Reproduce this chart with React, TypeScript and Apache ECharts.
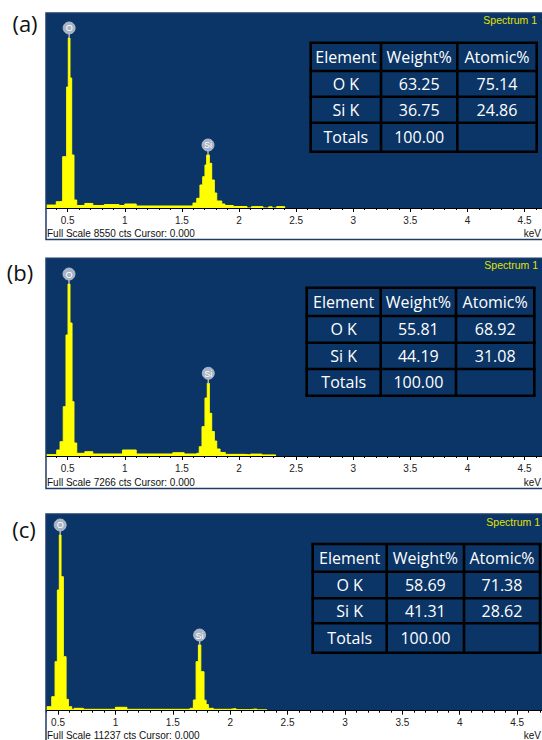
import React, { useEffect, useRef } from "react";
import * as echarts from "echarts";

// ---------- data ----------
// bin left edges (keV) and counts for each spectrum (step histogram)
const energyA = [0.31, 0.40, 0.43, 0.456, 0.491, 0.505, 0.520, 0.535, 0.555, 0.579, 0.65, 0.72, 0.82, 0.95, 1.00, 1.10, 1.597, 1.630, 1.658, 1.682, 1.702, 1.717, 1.740, 1.761, 1.784, 1.805, 1.849, 1.877, 1.95, 2.07, 2.11, 2.21, 2.26, 2.29, 2.33, 2.40];
const countsA = [130, 276, 300, 2250, 5306, 7455, 5700, 2324, 350, 110, 200, 110, 150, 110, 175, 88, 219, 425, 1009, 1372, 1886, 2324, 1960, 1228, 658, 307, 175, 110, 66, 0, 60, 0, 50, 0, 60, 0];

const energyB = [0.31, 0.404, 0.433, 0.461, 0.485, 0.503, 0.520, 0.538, 0.555, 0.579, 0.65, 0.72, 0.98, 1.10, 1.42, 1.52, 1.63, 1.652, 1.676, 1.702, 1.722, 1.740, 1.761, 1.784, 1.805, 1.834, 1.88, 2.05, 2.10, 2.20, 2.32];
const countsB = [50, 220, 525, 1812, 4447, 6321, 4888, 1996, 478, 99, 158, 74, 220, 74, 121, 74, 100, 342, 1077, 2131, 2672, 1569, 900, 550, 257, 130, 60, 40, 70, 40, 0];

const energyC = [0.395, 0.445, 0.474, 0.494, 0.511, 0.526, 0.546, 0.570, 0.590, 0.619, 0.64, 0.72, 1.00, 1.10, 1.650, 1.679, 1.703, 1.723, 1.744, 1.772, 1.79, 1.81, 1.853, 2.00, 2.05, 2.17, 2.23, 2.32];
const countsC = [229, 800, 2800, 6896, 10038, 7655, 3085, 651, 229, 80, 137, 80, 194, 80, 137, 611, 2800, 3753, 2228, 600, 350, 137, 80, 120, 60, 100, 50, 0];

const fullScales = [8550, 7266, 11237];
const panelLetters = ["(a)", "(b)", "(c)"];
const peakElements = ["O", "Si"];
const peakEnergies = [0.525, 1.74];
const majorTicks = [0.5, 1, 1.5, 2, 2.5, 3, 3.5, 4, 4.5];
const minorTicks = [0.4, 0.5, 0.6, 0.7, 0.8, 0.9, 1.0, 1.1, 1.2, 1.3, 1.4, 1.5, 1.6, 1.7, 1.8, 1.9, 2.0, 2.1, 2.2, 2.3, 2.4, 2.5, 2.6, 2.7, 2.8, 2.9, 3.0, 3.1, 3.2, 3.3, 3.4, 3.5, 3.6, 3.7, 3.8, 3.9, 4.0, 4.1, 4.2, 4.3, 4.4, 4.5, 4.6, 4.7];

const tableHeader = ["Element", "Weight%", "Atomic%"];
const tableA = [["O K", "63.25", "75.14"], ["Si K", "36.75", "24.86"], ["Totals", "100.00", ""]];
const tableB = [["O K", "55.81", "68.92"], ["Si K", "44.19", "31.08"], ["Totals", "100.00", ""]];
const tableC = [["O K", "58.69", "71.38"], ["Si K", "41.31", "28.62"], ["Totals", "100.00", ""]];

// ---------- layout ----------
const BG = "#0b3566";
const YELLOW = "#ffff00";
const panels = [
  {
    energy: energyA, counts: countsA, table: tableA,
    top: 13, height: 195, frameBottom: 239.5, xMin: 0.31, xMax: 4.653,
    tx: [310.7, 381, 457.3, 536.7], ty: [42.7, 71, 96.7, 122.7, 151.7],
    spec: [537, 20], letter: [25, 23], footY: 233,
  },
  {
    energy: energyB, counts: countsB, table: tableB,
    top: 258.3, height: 197.7, frameBottom: 488.5, xMin: 0.31, xMax: 4.653,
    tx: [306.7, 380.7, 456, 534.3], ty: [287.7, 316, 342.7, 369, 395.7],
    spec: [538, 265], letter: [20, 272], footY: 482,
  },
  {
    energy: energyC, counts: countsC, table: tableC,
    top: 514, height: 196.7, frameBottom: 760, xMin: 0.395, xMax: 4.717,
    tx: [312.7, 386.7, 464, 540], ty: [544, 571.7, 598.3, 623.3, 652.7],
    spec: [540, 521.7], letter: [24, 529], footY: 735,
  },
];

function findPeaks(energy: number[], counts: number[]) {
  return peakElements.map((el, k) => {
    const e0 = peakEnergies[k];
    let best = -1;
    for (let i = 0; i < energy.length - 1; i++) {
      if (Math.abs(energy[i] - e0) < 0.1 && (best < 0 || counts[i] > counts[best])) best = i;
    }
    return { label: el, x: (energy[best] + energy[best + 1]) / 2, y: counts[best] };
  });
}

function txt(text: string, x: number, y: number, font: string, fill: string, align = "center", z = 30) {
  return {
    type: "text", x, y, z, silent: true,
    style: { text, font, fill, align, verticalAlign: "middle", textAlign: align, textVerticalAlign: "middle" },
  };
}

function buildOption() {
  const grid: any[] = [];
  const xAxis: any[] = [];
  const yAxis: any[] = [];
  const series: any[] = [];
  const graphic: any[] = [];

  panels.forEach((p, i) => {
    grid.push({
      left: 46, right: 0, top: p.top, height: p.height,
      show: true, backgroundColor: BG, borderWidth: 0,
    });
    const inRange = (v: number) => v > p.xMin && v < p.xMax;
    xAxis.push({
      type: "value", gridIndex: i, min: p.xMin, max: p.xMax, position: "bottom", z: 5,
      axisLine: { show: true, onZero: false, lineStyle: { color: "#000", width: 1 } },
      axisTick: { show: true, length: 4, inside: false, customValues: majorTicks.filter(inRange), lineStyle: { color: "#000", width: 1 } },
      axisLabel: { show: true, customValues: majorTicks.filter(inRange), margin: 7, fontSize: 10, fontFamily: "Liberation Sans", color: "#222" },
      splitLine: { show: false },
    });
    xAxis.push({
      type: "value", gridIndex: i, min: p.xMin, max: p.xMax, position: "bottom", z: 5,
      axisLine: { show: false },
      axisTick: { show: true, length: 2, customValues: minorTicks.filter(inRange), lineStyle: { color: "#000", width: 1 } },
      axisLabel: { show: false },
      splitLine: { show: false },
    });
    yAxis.push({ type: "value", gridIndex: i, min: 0, max: fullScales[i], show: false, splitLine: { show: false } });

    series.push({
      type: "line", xAxisIndex: i * 2, yAxisIndex: i, step: "end",
      data: p.energy.map((e, k) => [e, p.counts[k]]),
      showSymbol: false, symbol: "none",
      lineStyle: { color: YELLOW, width: 1 },
      areaStyle: { color: YELLOW, opacity: 1 },
      z: 2, silent: true,
    });

    const peaks = findPeaks(p.energy, p.counts);
    series.push({
      type: "custom", xAxisIndex: i * 2, yAxisIndex: i, z: 6, silent: true,
      data: peaks.map((m) => [m.x, m.y]),
      renderItem: (params: any, api: any) => {
        const pt = api.coord([api.value(0), api.value(1)]);
        const label = peaks[params.dataIndex].label;
        const cy = pt[1] - 10;
        return {
          type: "group",
          children: [
            { type: "line", shape: { x1: pt[0], y1: pt[1], x2: pt[0], y2: cy + 4 }, style: { stroke: "#a8b3c5", lineWidth: 1.5 } },
            { type: "circle", shape: { cx: pt[0], cy, r: 6 }, style: { fill: "#a8b3c5", stroke: "#bcc5d3", lineWidth: 0.8 } },
            {
              type: "text", x: pt[0], y: cy + 0.5,
              style: { text: label, font: "9px Liberation Sans", fill: "#ffffff", align: "center", verticalAlign: "middle", textAlign: "center", textVerticalAlign: "middle" },
            },
          ],
        };
      },
    });

    // panel frame
    graphic.push({
      type: "rect", z: 20, silent: true,
      shape: { x: 46, y: p.top, width: 510, height: p.frameBottom - p.top },
      style: { fill: "none", stroke: "#1e3d69", lineWidth: 1.5 },
    });
    // panel letter
    graphic.push(txt(panelLetters[i], p.letter[0], p.letter[1], '22px "Open Sans"', "#111"));
    // spectrum label
    graphic.push(txt("Spectrum 1", p.spec[0], p.spec[1], "10.5px Liberation Sans", "#e2e200", "right"));
    // footer
    graphic.push(txt(`Full Scale ${fullScales[i]} cts Cursor: 0.000`, 47, p.footY, "10px Liberation Sans", "#111", "left"));
    graphic.push(txt("keV", 541, p.footY, "10px Liberation Sans", "#111", "right"));

    // table lines
    const tx = p.tx, ty = p.ty;
    tx.forEach((x) => {
      graphic.push({ type: "line", z: 25, silent: true, shape: { x1: x, y1: ty[0], x2: x, y2: ty[ty.length - 1] }, style: { stroke: "#000", lineWidth: 2.6 } });
    });
    ty.forEach((y) => {
      graphic.push({ type: "line", z: 25, silent: true, shape: { x1: tx[0] - 1.3, y1: y, x2: tx[tx.length - 1] + 1.3, y2: y }, style: { stroke: "#000", lineWidth: 2.6 } });
    });
    const rows = [tableHeader, ...p.table];
    rows.forEach((row, r) => {
      row.forEach((cell, c) => {
        if (!cell) return;
        const cx = (tx[c] + tx[c + 1]) / 2;
        const cy = (ty[r] + ty[r + 1]) / 2;
        graphic.push(txt(cell, cx, cy, '16px "Open Sans"', "#ffffff"));
      });
    });
  });

  return { animation: false, grid, xAxis, yAxis, series, graphic };
}

export default function App() {
  const ref = useRef<HTMLDivElement>(null);
  useEffect(() => {
    if (!ref.current) return;
    const chart = echarts.init(ref.current, undefined, { renderer: "svg" });
    chart.setOption(buildOption() as any);
    return () => chart.dispose();
  }, []);
  return (
    <div
      ref={ref}
      style={{ position: "absolute", left: 0, top: 0, width: 542, height: 740, background: "#fff" }}
    />
  );
}
